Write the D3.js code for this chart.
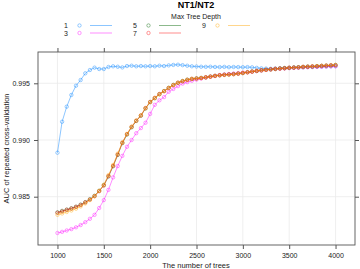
<!DOCTYPE html>
<html>
<head>
<meta charset="utf-8">
<script src="https://cdn.jsdelivr.net/npm/d3@7"></script>
<style>
  body { margin: 0; background: #fff; }
  svg { display: block; font-family: "Liberation Sans", Arial, sans-serif; }
</style>
</head>
<body>
<div id="chart"></div>
<script>
// number of trees, 1000..4000 by 50
const trees = [1000,1050,1100,1150,1200,1250,1300,1350,1400,1450,
  1500,1550,1600,1650,1700,1750,1800,1850,1900,1950,
  2000,2050,2100,2150,2200,2250,2300,2350,2400,2450,
  2500,2550,2600,2650,2700,2750,2800,2850,2900,2950,
  3000,3050,3100,3150,3200,3250,3300,3350,3400,3450,
  3500,3550,3600,3650,3700,3750,3800,3850,3900,3950,4000];

const depths = ['1', '3', '5', '7', '9'];
const colors = ['#0080ff', '#ff00ff', '#006400', '#ff0000', '#ffa500'];

const auc1 = [.98888,.99161,.99294,.99397,.99479,.99529,.99588,.99617,.99638,.99626,
  .99626,.99644,.99650,.99646,.99640,.99652,.99655,.99650,.99652,.99650,
  .99652,.99650,.99655,.99652,.99658,.99662,.99664,.99660,.99655,.99650,
  .99648,.99646,.99645,.99646,.99644,.99643,.99645,.99642,.99644,.99643,
  .99642,.99643,.99641,.99636,.99632,.99630,.99628,.99630,.99632,.99634,
  .99636,.99638,.99640,.99641,.99643,.99644,.99646,.99647,.99648,.99650,.99651];

const auc3 = [.98180,.98190,.98202,.98214,.98230,.98250,.98275,.98305,.98340,.98400,
  .98470,.98560,.98670,.98770,.98860,.98940,.99000,.99060,.99105,.99152,
  .99230,.99310,.99350,.99378,.99425,.99450,.99475,.99497,.99510,.99522,
  .99532,.99542,.99550,.99558,.99566,.99572,.99578,.99582,.99586,.99590,
  .99594,.99598,.99602,.99608,.99612,.99618,.99622,.99626,.99628,.99632,
  .99634,.99636,.99638,.99640,.99642,.99644,.99645,.99646,.99648,.99649,.99650];

const auc5 = [.98362,.98375,.98386,.98398,.98412,.98430,.98452,.98478,.98508,.98552,
  .98602,.98678,.98768,.98868,.98972,.99048,.99112,.99168,.99214,.99278,
  .99334,.99368,.99404,.99432,.99460,.99486,.99504,.99520,.99532,.99538,
  .99544,.99548,.99552,.99560,.99566,.99570,.99576,.99578,.99582,.99586,
  .99590,.99598,.99604,.99608,.99614,.99620,.99622,.99626,.99632,.99634,
  .99636,.99640,.99642,.99644,.99648,.99648,.99652,.99654,.99656,.99658,.99662];

const auc7 = [.98358,.98370,.98384,.98395,.98410,.98426,.98450,.98474,.98504,.98548,
  .98598,.98682,.98772,.98872,.98976,.99052,.99116,.99170,.99216,.99282,
  .99336,.99372,.99406,.99430,.99458,.99484,.99506,.99518,.99530,.99540,
  .99542,.99546,.99554,.99558,.99564,.99572,.99574,.99578,.99580,.99584,
  .99592,.99596,.99602,.99610,.99616,.99618,.99624,.99628,.99630,.99632,
  .99638,.99638,.99640,.99646,.99646,.99650,.99650,.99654,.99656,.99660,.99660];

const auc9 = [.98340,.98352,.98365,.98378,.98394,.98414,.98440,.98470,.98504,.98552,
  .98606,.98690,.98780,.98880,.98980,.99054,.99118,.99172,.99218,.99280,
  .99334,.99370,.99402,.99430,.99460,.99484,.99504,.99520,.99530,.99538,
  .99542,.99546,.99552,.99558,.99566,.99570,.99574,.99576,.99580,.99586,
  .99590,.99598,.99604,.99610,.99614,.99618,.99622,.99626,.99630,.99634,
  .99636,.99638,.99642,.99644,.99646,.99648,.99652,.99654,.99656,.99658,.99660];

const series = [auc1, auc3, auc5, auc7, auc9];
const xTicks = [1000, 1500, 2000, 2500, 3000, 3500, 4000];
const yTicks = [0.985, 0.990, 0.995];

const width = 360, height = 269;
const pLeft = 38, pRight = 355, pTop = 52, pBottom = 245;
const ink = '#222';

const svg = d3.select('#chart').append('svg')
  .attr('width', width)
  .attr('height', height);

const x = d3.scaleLinear().domain([790, 4210]).range([pLeft, pRight]);
const y = d3.scaleLinear().domain([0.98074, 0.99776]).range([pBottom, pTop]);

// grid
const grid = svg.append('g').attr('stroke', '#ebebeb').attr('stroke-width', 0.8);
grid.selectAll('.gx').data(xTicks).enter().append('line')
  .attr('x1', d => x(d)).attr('x2', d => x(d))
  .attr('y1', pTop).attr('y2', pBottom);
grid.selectAll('.gy').data(yTicks).enter().append('line')
  .attr('x1', pLeft).attr('x2', pRight)
  .attr('y1', d => y(d)).attr('y2', d => y(d));

// axes
function styleAxis(g) {
  g.select('.domain').remove();
  g.selectAll('line').attr('stroke', '#555');
  g.selectAll('text').attr('fill', ink).attr('font-size', 7);
}
svg.append('g').attr('transform', `translate(0,${pBottom})`)
  .call(d3.axisBottom(x).tickValues(xTicks).tickSize(4).tickPadding(4).tickFormat(d3.format('d')))
  .call(styleAxis);
svg.append('g').attr('transform', `translate(0,${pTop})`)
  .call(d3.axisTop(x).tickValues(xTicks).tickSize(4).tickFormat(''))
  .call(styleAxis);
svg.append('g').attr('transform', `translate(${pLeft},0)`)
  .call(d3.axisLeft(y).tickValues(yTicks).tickSize(4).tickPadding(4).tickFormat(d3.format('.3f')))
  .call(styleAxis);
svg.append('g').attr('transform', `translate(${pRight},0)`)
  .call(d3.axisRight(y).tickValues(yTicks).tickSize(4).tickFormat(''))
  .call(styleAxis);

// lines and points
const line = d3.line().x((d, i) => x(trees[i])).y(d => y(d));
series.forEach((vals, k) => {
  const g = svg.append('g');
  g.append('path')
    .attr('d', line(vals))
    .attr('fill', 'none')
    .attr('stroke', colors[k])
    .attr('stroke-opacity', 0.45)
    .attr('stroke-width', 1);
  g.selectAll('circle').data(vals).enter().append('circle')
    .attr('cx', (d, i) => x(trees[i]))
    .attr('cy', d => y(d))
    .attr('r', 1.7)
    .attr('fill', 'none')
    .attr('stroke', colors[k])
    .attr('stroke-opacity', 0.45)
    .attr('stroke-width', 0.9);
});

// panel border
svg.append('rect')
  .attr('x', pLeft).attr('y', pTop)
  .attr('width', pRight - pLeft).attr('height', pBottom - pTop)
  .attr('fill', 'none').attr('stroke', '#555').attr('stroke-width', 0.9);

// titles
svg.append('text').attr('x', 196).attr('y', 8)
  .attr('text-anchor', 'middle').attr('font-size', 9).attr('font-weight', 'bold')
  .attr('fill', '#000').text('NT1/NT2');
svg.append('text').attr('x', 196).attr('y', 19)
  .attr('text-anchor', 'middle').attr('font-size', 7).attr('fill', ink)
  .text('Max Tree Depth');
svg.append('text').attr('x', 196).attr('y', 268)
  .attr('text-anchor', 'middle').attr('font-size', 7.5).attr('fill', ink)
  .text('The number of trees');
svg.append('text')
  .attr('transform', `translate(9,${(pTop + pBottom) / 2}) rotate(-90)`)
  .attr('text-anchor', 'middle').attr('font-size', 7.5).attr('fill', ink)
  .text('AUC of repeated cross-validation');

// legend: 3 columns, 2 rows
const legX = [68, 137, 206];
const legY = [25.5, 33];
const leg = svg.append('g');
depths.forEach((d, k) => {
  const col = Math.floor(k / 2), row = k % 2;
  const lx = legX[col], ly = legY[row];
  leg.append('text').attr('x', lx).attr('y', ly + 2.5)
    .attr('text-anchor', 'end').attr('font-size', 7).attr('fill', ink).text(d);
  leg.append('circle').attr('cx', lx + 11.5).attr('cy', ly)
    .attr('r', 1.7).attr('fill', 'none')
    .attr('stroke', colors[k]).attr('stroke-opacity', 0.45).attr('stroke-width', 0.9);
  leg.append('line').attr('x1', lx + 22).attr('x2', lx + 44)
    .attr('y1', ly).attr('y2', ly)
    .attr('stroke', colors[k]).attr('stroke-opacity', 0.45).attr('stroke-width', 1);
});
</script>
</body>
</html>
